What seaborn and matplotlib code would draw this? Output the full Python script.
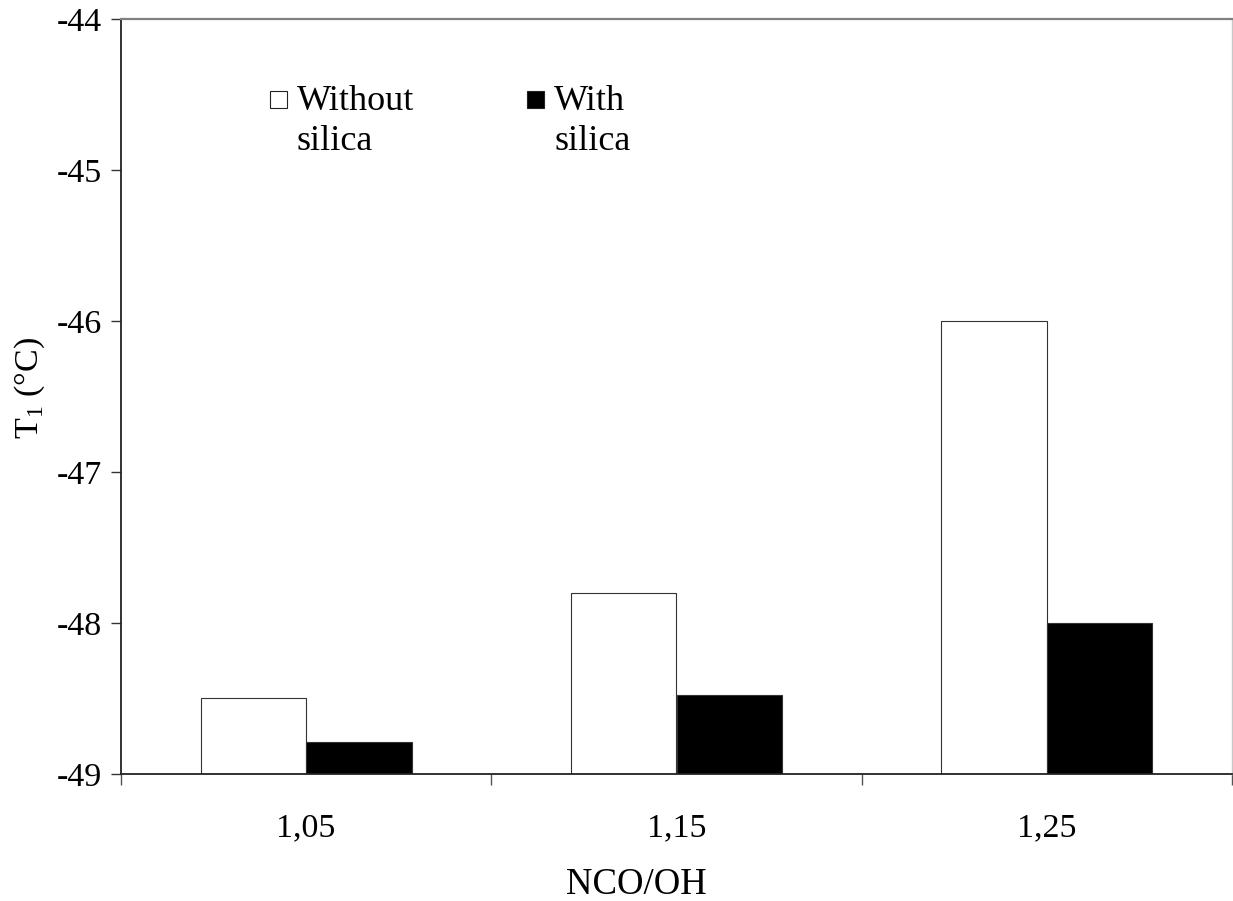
import matplotlib
matplotlib.use("Agg")
import matplotlib.pyplot as plt
from matplotlib.patches import Rectangle
import seaborn as sns
import pandas as pd

# ---- data ----
categories = ["1,05", "1,15", "1,25"]
series_names = ["Without silica", "With silica"]
without_silica = [-48.5, -47.8, -46.0]
with_silica = [-48.79, -48.48, -48.0]
y_ticks = [-49, -48, -47, -46, -45, -44]
y_tick_labels = ["-49", "-48", "-47", "-46", "-45", "-44"]
x_label = "NCO/OH"
y_label = "T$_{\\mathregular{1}}$ (°C)"
BASE = -49

sns.set_theme(style="white")
plt.rcParams["font.family"] = ["Liberation Serif", "DejaVu Serif"]
plt.rcParams["axes.unicode_minus"] = False

W, H = 1233, 901
fig = plt.figure(figsize=(W / 100, H / 100), dpi=100)
ax = fig.add_axes([121 / W, 1 - 774 / H, (1232 - 121) / W, (774 - 19) / H])

df = pd.DataFrame({
    "NCO/OH": categories * 2,
    "series": [series_names[0]] * len(categories) + [series_names[1]] * len(categories),
    "value": without_silica + with_silica,
})
df["height"] = df["value"] - BASE

sns.barplot(data=df, x="NCO/OH", y="height", hue="series", hue_order=series_names,
            order=categories, palette=["white", "black"], saturation=1,
            edgecolor="#333333", linewidth=0.8, width=0.57, bottom=BASE,
            errorbar=None, legend=False, ax=ax)

ax.set_xlim(-0.5, 2.5)
ax.set_ylim(-49, -44)
ax.set_yticks(y_ticks)
ax.set_yticklabels(y_tick_labels)
ax.set_xticks(range(len(categories)))
ax.set_xticklabels(categories)
ax.set_xticks([-0.5, 0.5, 1.5, 2.5], minor=True)

fs = 24.5
fs_text = 26
ax.tick_params(axis="y", which="major", left=True, length=7, width=1, color="#333333",
               labelsize=fs, pad=7, labelcolor="black")
ax.tick_params(axis="x", which="major", bottom=True, length=0, labelsize=fs, pad=28,
               labelcolor="black")
ax.tick_params(axis="x", which="minor", bottom=True, length=8, width=1, color="#555555")

for side in ["left", "bottom"]:
    ax.spines[side].set_color("#222222")
    ax.spines[side].set_linewidth(1.3)
ax.spines["top"].set_color("#808080")
ax.spines["top"].set_linewidth(1.6)
ax.spines["right"].set_color("#c8c8c8")
ax.spines["right"].set_linewidth(1.0)

ax.set_xlabel(x_label, fontsize=26.5, color="black", va="center")
ax.xaxis.set_label_coords((636 - 121) / 1111, (774 - 885) / 755)
ax.set_ylabel(y_label, fontsize=fs, color="black", va="center")
ax.yaxis.set_label_coords((30 - 121) / 1111, (774 - 388) / 755)

# ---- legend (manual, two columns, text wrapped) ----
def fx(px):
    return px / W

def fy(py):
    return 1 - py / H

legend_items = [
    (270, "white", ["Without", "silica"]),
    (527, "black", ["With", "silica"]),
]
for x0, fc, lines in legend_items:
    fig.add_artist(Rectangle((fx(x0), fy(108)), 17 / W, 17 / H, transform=fig.transFigure,
                             facecolor=fc, edgecolor="#222222", linewidth=0.8))
    for i, line in enumerate(lines):
        fig.text(fx(x0 + 27), fy(110 + 40 * i), line, fontsize=fs_text, ha="left",
                 va="baseline", color="black")

fig.savefig("out.png", dpi=100)
